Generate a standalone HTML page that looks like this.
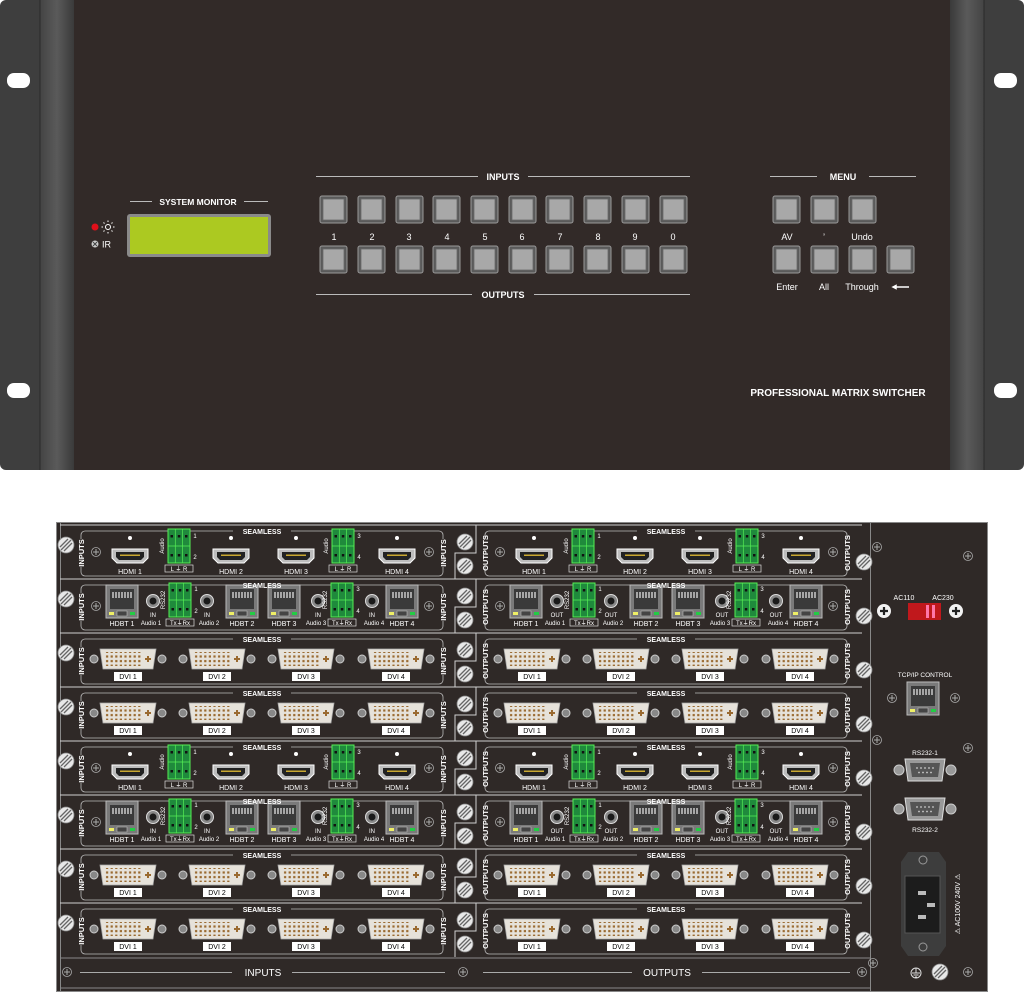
<!DOCTYPE html>
<html><head><meta charset="utf-8"><style>
html,body{margin:0;padding:0;background:#fff;width:1024px;height:992px;overflow:hidden}
svg{display:block}
text{font-family:"Liberation Sans",sans-serif;fill:#fff}
.s{font-size:7px;font-weight:bold;text-anchor:middle}
.l{font-size:7px;text-anchor:middle}
.t{font-size:6px;text-anchor:middle}
.v{font-size:7.5px;font-weight:bold;text-anchor:middle}
.d{font-size:7px;text-anchor:middle;fill:#000}
.f{font-size:9px;font-weight:bold;text-anchor:middle}
.n{font-size:9px;text-anchor:middle}
</style></head><body>
<svg width="1024" height="992" viewBox="0 0 1024 992" xmlns="http://www.w3.org/2000/svg">
<defs>
<linearGradient id="earL" x1="0" x2="1"><stop offset="0" stop-color="#444"/><stop offset="0.5" stop-color="#5a5a5a"/><stop offset="1" stop-color="#3a3a3a"/></linearGradient>
<linearGradient id="earR" x1="1" x2="0"><stop offset="0" stop-color="#444"/><stop offset="0.5" stop-color="#5a5a5a"/><stop offset="1" stop-color="#3a3a3a"/></linearGradient>
<pattern id="pins" width="4.6" height="4.6" patternUnits="userSpaceOnUse"><rect x="1" y="1" width="2.2" height="2.2" fill="#9a6a30"/></pattern>
<g id="btn"><rect x="0" y="0" width="27" height="27" rx="2" fill="#5a5a5a" stroke="#999" stroke-width="1"/><rect x="3" y="3" width="21" height="21" fill="#a8a8a8" stroke="#6a6a6a" stroke-width="0.8"/></g>
<g id="hdmi"><path d="M-18,-7 H18 V2 L13,7 H-13 L-18,2 Z" fill="#bdbdbd" stroke="#fff" stroke-width="1"/><path d="M-14,-4 H14 V1 L11,4 H-11 L-14,1 Z" fill="#222"/><rect x="-10" y="-1.5" width="20" height="1.5" fill="#c9a830"/></g>
<g id="rj"><rect x="0" y="0" width="32" height="33" fill="#7a7a7a" stroke="#bbb" stroke-width="1"/><rect x="4" y="4" width="24" height="20" fill="#3a3a3a"/><path d="M7,7 v6 M10,7 v6 M13,7 v6 M16,7 v6 M19,7 v6 M22,7 v6 M25,7 v6" stroke="#eee" stroke-width="1.2"/><rect x="11" y="26" width="10" height="5" fill="#444" stroke="#bbb" stroke-width="0.6"/><rect x="3" y="27" width="5" height="3" fill="#ee6"/><rect x="24" y="27" width="5" height="3" fill="#2c4"/></g>
<g id="jack"><circle r="6.5" fill="#888" stroke="#ddd" stroke-width="1"/><circle r="3.5" fill="#1a1a1a"/></g>
<g id="grn"><rect x="0" y="0" width="22" height="34" fill="#1f8a3c" stroke="#55ee55" stroke-width="1"/><path d="M0,17 H22 M7.3,0 V34 M14.6,0 V34" stroke="#55ee55" stroke-width="0.7"/><g fill="#111"><rect x="2.5" y="6" width="2.5" height="2.5"/><rect x="9.8" y="6" width="2.5" height="2.5"/><rect x="17" y="6" width="2.5" height="2.5"/><rect x="2.5" y="25" width="2.5" height="2.5"/><rect x="9.8" y="25" width="2.5" height="2.5"/><rect x="17" y="25" width="2.5" height="2.5"/></g></g>
<g id="dvi"><circle cx="-34" r="4" fill="#888" stroke="#ccc" stroke-width="1"/><circle cx="34" r="4" fill="#888" stroke="#ccc" stroke-width="1"/><path d="M-28,-10 H28 L25,10 H-25 Z" fill="#e6e2da" stroke="#aaa" stroke-width="0.8"/><rect x="-23" y="-7" width="37" height="14" fill="url(#pins)"/><path d="M20,-3 v6 M17,0 h6" stroke="#9a6a30" stroke-width="2"/></g>
<g id="scr"><circle r="8" fill="#e8e8e8" stroke="#888" stroke-width="0.8"/><path d="M-5,5 L5,-5 M-6,2 L2,-6 M-2,6 L6,-2" stroke="#666" stroke-width="1.3"/></g>
<g id="ps"><circle r="4.5" fill="none" stroke="#aaa" stroke-width="0.8"/><path d="M-3,0 H3 M0,-3 V3" stroke="#aaa" stroke-width="1"/></g>
<g id="wp"><circle r="7" fill="#f2f2f2"/><path d="M-4,0 H4 M0,-4 V4" stroke="#222" stroke-width="2.2"/></g>
<g id="db9"><circle cx="-26" r="5" fill="#999" stroke="#ccc"/><circle cx="26" r="5" fill="#999" stroke="#ccc"/><path d="M-20,-11 H20 L17,11 H-17 Z" fill="#999" stroke="#ddd" stroke-width="1"/><path d="M-15,-7 H15 L13,7 H-13 Z" fill="#555"/><g fill="#ccc"><circle cx="-8" cy="-2" r="0.9"/><circle cx="-4" cy="-2" r="0.9"/><circle cx="0" cy="-2" r="0.9"/><circle cx="4" cy="-2" r="0.9"/><circle cx="8" cy="-2" r="0.9"/><circle cx="-6" cy="2.5" r="0.9"/><circle cx="-2" cy="2.5" r="0.9"/><circle cx="2" cy="2.5" r="0.9"/><circle cx="6" cy="2.5" r="0.9"/></g></g>
<g id="frame"><rect x="0" y="6" width="362" height="45" rx="4" fill="none" stroke="#bbb" stroke-width="0.8"/><rect x="152" y="2" width="58" height="8" fill="#2f2927"/><rect x="-5" y="14" width="10" height="28" fill="#2f2927"/><rect x="357" y="14" width="10" height="28" fill="#2f2927"/></g>
<g id="hdmicard"><use href="#frame"/><g fill="#fff"><circle cx="49" cy="13" r="2"/><circle cx="150" cy="13" r="2"/><circle cx="215" cy="13" r="2"/><circle cx="316" cy="13" r="2"/></g><use href="#hdmi" x="49" y="31"/><use href="#hdmi" x="150" y="31"/><use href="#hdmi" x="215" y="31"/><use href="#hdmi" x="316" y="31"/><use href="#grn" x="87" y="4"/><use href="#grn" x="251" y="4"/><rect x="84" y="40" width="28" height="7" fill="none" stroke="#ddd" stroke-width="0.7"/><rect x="248" y="40" width="28" height="7" fill="none" stroke="#ddd" stroke-width="0.7"/><use href="#ps" x="15" y="27"/><use href="#ps" x="348" y="27"/></g>
<g id="hdbtcard"><use href="#frame"/><use href="#rj" x="25" y="6"/><use href="#rj" x="145" y="6"/><use href="#rj" x="187" y="6"/><use href="#rj" x="305" y="6"/><use href="#jack" x="72" y="22"/><use href="#jack" x="126" y="22"/><use href="#jack" x="237" y="22"/><use href="#jack" x="291" y="22"/><use href="#grn" x="88" y="4"/><use href="#grn" x="250" y="4"/><rect x="85" y="40" width="28" height="7" fill="none" stroke="#ddd" stroke-width="0.7"/><rect x="247" y="40" width="28" height="7" fill="none" stroke="#ddd" stroke-width="0.7"/><use href="#ps" x="15" y="27"/><use href="#ps" x="348" y="27"/></g>
<g id="dvicard"><use href="#frame"/><use href="#dvi" x="47" y="26"/><use href="#dvi" x="136" y="26"/><use href="#dvi" x="225" y="26"/><use href="#dvi" x="315" y="26"/><g fill="#fff"><rect x="33" y="39" width="28" height="9"/><rect x="122" y="39" width="28" height="9"/><rect x="211" y="39" width="28" height="9"/><rect x="301" y="39" width="28" height="9"/></g></g>
<g id="screws"><use href="#scr" x="66" y="20"/><use href="#scr" x="465" y="17"/><use href="#scr" x="465" y="41"/><use href="#scr" x="864" y="37"/><path d="M60,0 H862 M476,0 V28 H455 V54" fill="none" stroke="#cfcfcf" stroke-width="1"/></g>
</defs>

<!-- FRONT PANEL -->
<rect x="0" y="0" width="1024" height="470" rx="6" fill="#3e3e3e"/>
<rect x="40" y="0" width="34" height="470" fill="url(#earL)"/>
<rect x="950" y="0" width="34" height="470" fill="url(#earR)"/>
<rect x="74" y="0" width="876" height="470" fill="#322a28"/>
<path d="M40,0 V470 M984,0 V470" stroke="#2a2a2a" stroke-width="1"/>
<rect x="7" y="73" width="23" height="15" rx="7" fill="#fff"/>
<rect x="7" y="383" width="23" height="15" rx="7" fill="#fff"/>
<rect x="994" y="73" width="23" height="15" rx="7" fill="#fff"/>
<rect x="994" y="383" width="23" height="15" rx="7" fill="#fff"/>

<path d="M130,201.5 H152 M244,201.5 H268" stroke="#bbb" stroke-width="1"/>
<text x="198" y="205" class="f" style="font-size:8.5px">SYSTEM MONITOR</text>
<rect x="127" y="214" width="144" height="43" rx="3" fill="#8a8a8a"/>
<rect x="130" y="217" width="138" height="37" fill="#acc921"/>
<circle cx="95" cy="227" r="3.5" fill="#e0101a"/>
<circle cx="108" cy="227" r="2.5" fill="none" stroke="#fff" stroke-width="1"/>
<path d="M108,222 v-1.5 M108,232 v1.5 M103,227 h-1.5 M113,227 h1.5 M104.5,223.5 l-1,-1 M111.5,230.5 l1,1 M111.5,223.5 l1,-1 M104.5,230.5 l-1,1" stroke="#fff" stroke-width="1"/>
<circle cx="95" cy="244" r="3.5" fill="#ccc"/><path d="M93,242 l4,4 M97,242 l-4,4" stroke="#444" stroke-width="1"/>
<text x="102" y="247.5" style="font-size:9px">IR</text>

<path d="M316,176.5 H478 M528,176.5 H690" stroke="#bbb" stroke-width="1"/>
<text x="503" y="180" class="f">INPUTS</text>
<path d="M316,294.5 H472 M534,294.5 H690" stroke="#bbb" stroke-width="1"/>
<text x="503" y="298" class="f">OUTPUTS</text>
<use href="#btn" x="320" y="196"/><use href="#btn" x="358" y="196"/><use href="#btn" x="396" y="196"/><use href="#btn" x="433" y="196"/><use href="#btn" x="471" y="196"/><use href="#btn" x="509" y="196"/><use href="#btn" x="546" y="196"/><use href="#btn" x="584" y="196"/><use href="#btn" x="622" y="196"/><use href="#btn" x="660" y="196"/>
<use href="#btn" x="320" y="246"/><use href="#btn" x="358" y="246"/><use href="#btn" x="396" y="246"/><use href="#btn" x="433" y="246"/><use href="#btn" x="471" y="246"/><use href="#btn" x="509" y="246"/><use href="#btn" x="546" y="246"/><use href="#btn" x="584" y="246"/><use href="#btn" x="622" y="246"/><use href="#btn" x="660" y="246"/>
<text x="334" y="240" class="n">1</text><text x="372" y="240" class="n">2</text><text x="409" y="240" class="n">3</text><text x="447" y="240" class="n">4</text><text x="485" y="240" class="n">5</text><text x="522" y="240" class="n">6</text><text x="560" y="240" class="n">7</text><text x="598" y="240" class="n">8</text><text x="635" y="240" class="n">9</text><text x="673" y="240" class="n">0</text>

<path d="M770,176.5 H817 M869,176.5 H916" stroke="#bbb" stroke-width="1"/>
<text x="843" y="180" class="f">MENU</text>
<use href="#btn" x="773" y="196"/><use href="#btn" x="811" y="196"/><use href="#btn" x="849" y="196"/>
<use href="#btn" x="773" y="246"/><use href="#btn" x="811" y="246"/><use href="#btn" x="849" y="246"/><use href="#btn" x="887" y="246"/>
<text x="787" y="240" class="n">AV</text><text x="824" y="240" class="n">’</text><text x="862" y="240" class="n">Undo</text>
<text x="787" y="290" class="n">Enter</text><text x="824" y="290" class="n">All</text><text x="862" y="290" class="n">Through</text>
<path d="M893,287 H909 M893,287 l3,-1.5 v3 z" stroke="#fff" stroke-width="1.5" fill="#fff"/>
<text x="838" y="396" class="f" style="font-size:10px">PROFESSIONAL MATRIX SWITCHER</text>

<!-- REAR PANEL -->
<rect x="56" y="522" width="932" height="470" fill="#2f2927"/>
<rect x="56.5" y="522.5" width="931" height="469" fill="none" stroke="#888" stroke-width="1"/>
<path d="M60.5,522 V992 M870.5,522 V992" stroke="#888" stroke-width="1"/>

<!-- row 1 HDMI -->
<g transform="translate(0,525)"><use href="#screws"/></g>
<g transform="translate(81,525)"><use href="#hdmicard"/>
<text x="181" y="9" class="s">SEAMLESS</text>
<text transform="translate(3,28) rotate(-90)" class="v">INPUTS</text><text transform="translate(365,28) rotate(-90)" class="v">INPUTS</text>
<text transform="translate(83,21) rotate(-90)" class="t">Audio</text><text x="114" y="13" class="t">1</text><text x="114" y="34" class="t">2</text>
<text transform="translate(247,21) rotate(-90)" class="t">Audio</text><text x="278" y="13" class="t">3</text><text x="278" y="34" class="t">4</text>
<text x="98" y="46" class="t">L ⏚ R</text><text x="262" y="46" class="t">L ⏚ R</text>
<text x="49" y="49" class="l">HDMI 1</text><text x="150" y="49" class="l">HDMI 2</text><text x="215" y="49" class="l">HDMI 3</text><text x="316" y="49" class="l">HDMI 4</text></g>
<g transform="translate(485,525)"><use href="#hdmicard"/>
<text x="181" y="9" class="s">SEAMLESS</text>
<text transform="translate(3,28) rotate(-90)" class="v">OUTPUTS</text><text transform="translate(365,28) rotate(-90)" class="v">OUTPUTS</text>
<text transform="translate(83,21) rotate(-90)" class="t">Audio</text><text x="114" y="13" class="t">1</text><text x="114" y="34" class="t">2</text>
<text transform="translate(247,21) rotate(-90)" class="t">Audio</text><text x="278" y="13" class="t">3</text><text x="278" y="34" class="t">4</text>
<text x="98" y="46" class="t">L ⏚ R</text><text x="262" y="46" class="t">L ⏚ R</text>
<text x="49" y="49" class="l">HDMI 1</text><text x="150" y="49" class="l">HDMI 2</text><text x="215" y="49" class="l">HDMI 3</text><text x="316" y="49" class="l">HDMI 4</text></g>

<!-- row 2 HDBT -->
<g transform="translate(0,579)"><use href="#screws"/></g>
<g transform="translate(81,579)"><use href="#hdbtcard"/>
<text x="181" y="9" class="s">SEAMLESS</text>
<text transform="translate(3,28) rotate(-90)" class="v">INPUTS</text><text transform="translate(365,28) rotate(-90)" class="v">INPUTS</text>
<text transform="translate(84,21) rotate(-90)" class="t">RS232</text><text x="115" y="12" class="t">1</text><text x="115" y="34" class="t">2</text>
<text transform="translate(246,21) rotate(-90)" class="t">RS232</text><text x="277" y="12" class="t">3</text><text x="277" y="34" class="t">4</text>
<text x="99" y="46" class="t">Tx⏚Rx</text><text x="261" y="46" class="t">Tx⏚Rx</text>
<text x="72" y="38" class="t">IN</text><text x="126" y="38" class="t">IN</text><text x="237" y="38" class="t">IN</text><text x="291" y="38" class="t">IN</text>
<text x="70" y="46" class="t">Audio 1</text><text x="128" y="46" class="t">Audio 2</text><text x="235" y="46" class="t">Audio 3</text><text x="293" y="46" class="t">Audio 4</text>
<text x="41" y="47" class="l">HDBT 1</text><text x="161" y="47" class="l">HDBT 2</text><text x="203" y="47" class="l">HDBT 3</text><text x="321" y="47" class="l">HDBT 4</text></g>
<g transform="translate(485,579)"><use href="#hdbtcard"/>
<text x="181" y="9" class="s">SEAMLESS</text>
<text transform="translate(3,28) rotate(-90)" class="v">OUTPUTS</text><text transform="translate(365,28) rotate(-90)" class="v">OUTPUTS</text>
<text transform="translate(84,21) rotate(-90)" class="t">RS232</text><text x="115" y="12" class="t">1</text><text x="115" y="34" class="t">2</text>
<text transform="translate(246,21) rotate(-90)" class="t">RS232</text><text x="277" y="12" class="t">3</text><text x="277" y="34" class="t">4</text>
<text x="99" y="46" class="t">Tx⏚Rx</text><text x="261" y="46" class="t">Tx⏚Rx</text>
<text x="72" y="38" class="t">OUT</text><text x="126" y="38" class="t">OUT</text><text x="237" y="38" class="t">OUT</text><text x="291" y="38" class="t">OUT</text>
<text x="70" y="46" class="t">Audio 1</text><text x="128" y="46" class="t">Audio 2</text><text x="235" y="46" class="t">Audio 3</text><text x="293" y="46" class="t">Audio 4</text>
<text x="41" y="47" class="l">HDBT 1</text><text x="161" y="47" class="l">HDBT 2</text><text x="203" y="47" class="l">HDBT 3</text><text x="321" y="47" class="l">HDBT 4</text></g>

<!-- row 3 DVI -->
<g transform="translate(0,633)"><use href="#screws"/></g>
<g transform="translate(81,633)"><use href="#dvicard"/><text x="181" y="9" class="s">SEAMLESS</text>
<text transform="translate(3,28) rotate(-90)" class="v">INPUTS</text><text transform="translate(365,28) rotate(-90)" class="v">INPUTS</text>
<text x="47" y="46" class="d">DVI 1</text><text x="136" y="46" class="d">DVI 2</text><text x="225" y="46" class="d">DVI 3</text><text x="315" y="46" class="d">DVI 4</text></g>
<g transform="translate(485,633)"><use href="#dvicard"/><text x="181" y="9" class="s">SEAMLESS</text>
<text transform="translate(3,28) rotate(-90)" class="v">OUTPUTS</text><text transform="translate(365,28) rotate(-90)" class="v">OUTPUTS</text>
<text x="47" y="46" class="d">DVI 1</text><text x="136" y="46" class="d">DVI 2</text><text x="225" y="46" class="d">DVI 3</text><text x="315" y="46" class="d">DVI 4</text></g>

<!-- row 4 DVI -->
<g transform="translate(0,687)"><use href="#screws"/></g>
<g transform="translate(81,687)"><use href="#dvicard"/><text x="181" y="9" class="s">SEAMLESS</text>
<text transform="translate(3,28) rotate(-90)" class="v">INPUTS</text><text transform="translate(365,28) rotate(-90)" class="v">INPUTS</text>
<text x="47" y="46" class="d">DVI 1</text><text x="136" y="46" class="d">DVI 2</text><text x="225" y="46" class="d">DVI 3</text><text x="315" y="46" class="d">DVI 4</text></g>
<g transform="translate(485,687)"><use href="#dvicard"/><text x="181" y="9" class="s">SEAMLESS</text>
<text transform="translate(3,28) rotate(-90)" class="v">OUTPUTS</text><text transform="translate(365,28) rotate(-90)" class="v">OUTPUTS</text>
<text x="47" y="46" class="d">DVI 1</text><text x="136" y="46" class="d">DVI 2</text><text x="225" y="46" class="d">DVI 3</text><text x="315" y="46" class="d">DVI 4</text></g>

<!-- row 5 HDMI -->
<g transform="translate(0,741)"><use href="#screws"/></g>
<g transform="translate(81,741)"><use href="#hdmicard"/>
<text x="181" y="9" class="s">SEAMLESS</text>
<text transform="translate(3,28) rotate(-90)" class="v">INPUTS</text><text transform="translate(365,28) rotate(-90)" class="v">INPUTS</text>
<text transform="translate(83,21) rotate(-90)" class="t">Audio</text><text x="114" y="13" class="t">1</text><text x="114" y="34" class="t">2</text>
<text transform="translate(247,21) rotate(-90)" class="t">Audio</text><text x="278" y="13" class="t">3</text><text x="278" y="34" class="t">4</text>
<text x="98" y="46" class="t">L ⏚ R</text><text x="262" y="46" class="t">L ⏚ R</text>
<text x="49" y="49" class="l">HDMI 1</text><text x="150" y="49" class="l">HDMI 2</text><text x="215" y="49" class="l">HDMI 3</text><text x="316" y="49" class="l">HDMI 4</text></g>
<g transform="translate(485,741)"><use href="#hdmicard"/>
<text x="181" y="9" class="s">SEAMLESS</text>
<text transform="translate(3,28) rotate(-90)" class="v">OUTPUTS</text><text transform="translate(365,28) rotate(-90)" class="v">OUTPUTS</text>
<text transform="translate(83,21) rotate(-90)" class="t">Audio</text><text x="114" y="13" class="t">1</text><text x="114" y="34" class="t">2</text>
<text transform="translate(247,21) rotate(-90)" class="t">Audio</text><text x="278" y="13" class="t">3</text><text x="278" y="34" class="t">4</text>
<text x="98" y="46" class="t">L ⏚ R</text><text x="262" y="46" class="t">L ⏚ R</text>
<text x="49" y="49" class="l">HDMI 1</text><text x="150" y="49" class="l">HDMI 2</text><text x="215" y="49" class="l">HDMI 3</text><text x="316" y="49" class="l">HDMI 4</text></g>

<!-- row 6 HDBT -->
<g transform="translate(0,795)"><use href="#screws"/></g>
<g transform="translate(81,795)"><use href="#hdbtcard"/>
<text x="181" y="9" class="s">SEAMLESS</text>
<text transform="translate(3,28) rotate(-90)" class="v">INPUTS</text><text transform="translate(365,28) rotate(-90)" class="v">INPUTS</text>
<text transform="translate(84,21) rotate(-90)" class="t">RS232</text><text x="115" y="12" class="t">1</text><text x="115" y="34" class="t">2</text>
<text transform="translate(246,21) rotate(-90)" class="t">RS232</text><text x="277" y="12" class="t">3</text><text x="277" y="34" class="t">4</text>
<text x="99" y="46" class="t">Tx⏚Rx</text><text x="261" y="46" class="t">Tx⏚Rx</text>
<text x="72" y="38" class="t">IN</text><text x="126" y="38" class="t">IN</text><text x="237" y="38" class="t">IN</text><text x="291" y="38" class="t">IN</text>
<text x="70" y="46" class="t">Audio 1</text><text x="128" y="46" class="t">Audio 2</text><text x="235" y="46" class="t">Audio 3</text><text x="293" y="46" class="t">Audio 4</text>
<text x="41" y="47" class="l">HDBT 1</text><text x="161" y="47" class="l">HDBT 2</text><text x="203" y="47" class="l">HDBT 3</text><text x="321" y="47" class="l">HDBT 4</text></g>
<g transform="translate(485,795)"><use href="#hdbtcard"/>
<text x="181" y="9" class="s">SEAMLESS</text>
<text transform="translate(3,28) rotate(-90)" class="v">OUTPUTS</text><text transform="translate(365,28) rotate(-90)" class="v">OUTPUTS</text>
<text transform="translate(84,21) rotate(-90)" class="t">RS232</text><text x="115" y="12" class="t">1</text><text x="115" y="34" class="t">2</text>
<text transform="translate(246,21) rotate(-90)" class="t">RS232</text><text x="277" y="12" class="t">3</text><text x="277" y="34" class="t">4</text>
<text x="99" y="46" class="t">Tx⏚Rx</text><text x="261" y="46" class="t">Tx⏚Rx</text>
<text x="72" y="38" class="t">OUT</text><text x="126" y="38" class="t">OUT</text><text x="237" y="38" class="t">OUT</text><text x="291" y="38" class="t">OUT</text>
<text x="70" y="46" class="t">Audio 1</text><text x="128" y="46" class="t">Audio 2</text><text x="235" y="46" class="t">Audio 3</text><text x="293" y="46" class="t">Audio 4</text>
<text x="41" y="47" class="l">HDBT 1</text><text x="161" y="47" class="l">HDBT 2</text><text x="203" y="47" class="l">HDBT 3</text><text x="321" y="47" class="l">HDBT 4</text></g>

<!-- row 7 DVI -->
<g transform="translate(0,849)"><use href="#screws"/></g>
<g transform="translate(81,849)"><use href="#dvicard"/><text x="181" y="9" class="s">SEAMLESS</text>
<text transform="translate(3,28) rotate(-90)" class="v">INPUTS</text><text transform="translate(365,28) rotate(-90)" class="v">INPUTS</text>
<text x="47" y="46" class="d">DVI 1</text><text x="136" y="46" class="d">DVI 2</text><text x="225" y="46" class="d">DVI 3</text><text x="315" y="46" class="d">DVI 4</text></g>
<g transform="translate(485,849)"><use href="#dvicard"/><text x="181" y="9" class="s">SEAMLESS</text>
<text transform="translate(3,28) rotate(-90)" class="v">OUTPUTS</text><text transform="translate(365,28) rotate(-90)" class="v">OUTPUTS</text>
<text x="47" y="46" class="d">DVI 1</text><text x="136" y="46" class="d">DVI 2</text><text x="225" y="46" class="d">DVI 3</text><text x="315" y="46" class="d">DVI 4</text></g>

<!-- row 8 DVI -->
<g transform="translate(0,903)"><use href="#screws"/></g>
<g transform="translate(81,903)"><use href="#dvicard"/><text x="181" y="9" class="s">SEAMLESS</text>
<text transform="translate(3,28) rotate(-90)" class="v">INPUTS</text><text transform="translate(365,28) rotate(-90)" class="v">INPUTS</text>
<text x="47" y="46" class="d">DVI 1</text><text x="136" y="46" class="d">DVI 2</text><text x="225" y="46" class="d">DVI 3</text><text x="315" y="46" class="d">DVI 4</text></g>
<g transform="translate(485,903)"><use href="#dvicard"/><text x="181" y="9" class="s">SEAMLESS</text>
<text transform="translate(3,28) rotate(-90)" class="v">OUTPUTS</text><text transform="translate(365,28) rotate(-90)" class="v">OUTPUTS</text>
<text x="47" y="46" class="d">DVI 1</text><text x="136" y="46" class="d">DVI 2</text><text x="225" y="46" class="d">DVI 3</text><text x="315" y="46" class="d">DVI 4</text></g>

<!-- bottom strip -->
<path d="M60,958 H870 M60,988 H870" stroke="#888" stroke-width="1"/>
<path d="M80,972.5 H232 M292,972.5 H445 M483,972.5 H632 M702,972.5 H850" stroke="#aaa" stroke-width="1"/>
<text x="263" y="976" class="f" style="font-size:10px;font-weight:normal">INPUTS</text>
<text x="667" y="976" class="f" style="font-size:10px;font-weight:normal">OUTPUTS</text>
<use href="#ps" x="67" y="972"/><use href="#ps" x="463" y="972"/><use href="#ps" x="862" y="972"/>

<!-- right control section -->
<use href="#ps" x="877" y="547"/><use href="#ps" x="968" y="556"/>
<text x="904" y="600" class="l">AC110</text><text x="943" y="600" class="l">AC230</text>
<rect x="908" y="603" width="33" height="17" fill="#c0181c"/><rect x="926" y="605" width="3" height="13" fill="#f7a"/><rect x="932" y="605" width="3" height="13" fill="#f7a"/>
<use href="#wp" x="884" y="611"/><use href="#wp" x="956" y="611"/>
<text x="925" y="677" class="t" style="font-size:6.5px">TCP/IP CONTROL</text>
<use href="#rj" x="907" y="682" transform="translate(0,0)"/>
<use href="#ps" x="892" y="698"/><use href="#ps" x="955" y="698"/>
<use href="#ps" x="877" y="740"/><use href="#ps" x="968" y="748"/>
<text x="925" y="755" class="t" style="font-size:6.5px">RS232-1</text>
<use href="#db9" x="925" y="770"/>
<use href="#db9" x="925" y="809"/>
<text x="925" y="832" class="t" style="font-size:6.5px">RS232-2</text>
<path d="M908,852 H939 L946,862 V946 L939,956 H908 L901,946 V862 Z" fill="#3d3d3d"/>
<circle cx="923" cy="860" r="4" fill="none" stroke="#999" stroke-width="1"/>
<circle cx="923" cy="947" r="4" fill="none" stroke="#999" stroke-width="1"/>
<rect x="905" y="876" width="35" height="57" fill="#1c1c1c" stroke="#555"/>
<rect x="918" y="891" width="8" height="4" fill="#bbb"/><rect x="927" y="903" width="8" height="4" fill="#bbb"/><rect x="918" y="915" width="8" height="4" fill="#bbb"/>
<text transform="translate(960,904) rotate(-90)" class="t" style="font-size:7px">⚠ AC100V  240V ⚠</text>
<circle cx="916" cy="973" r="5" fill="none" stroke="#ddd"/><path d="M912,973 h8 M913.5,975 h5 M915,977 h2 M916,968 v5" stroke="#ddd"/>
<use href="#scr" x="940" y="972"/>
<use href="#ps" x="873" y="963"/><use href="#ps" x="968" y="972"/>
</svg>
</body></html>
